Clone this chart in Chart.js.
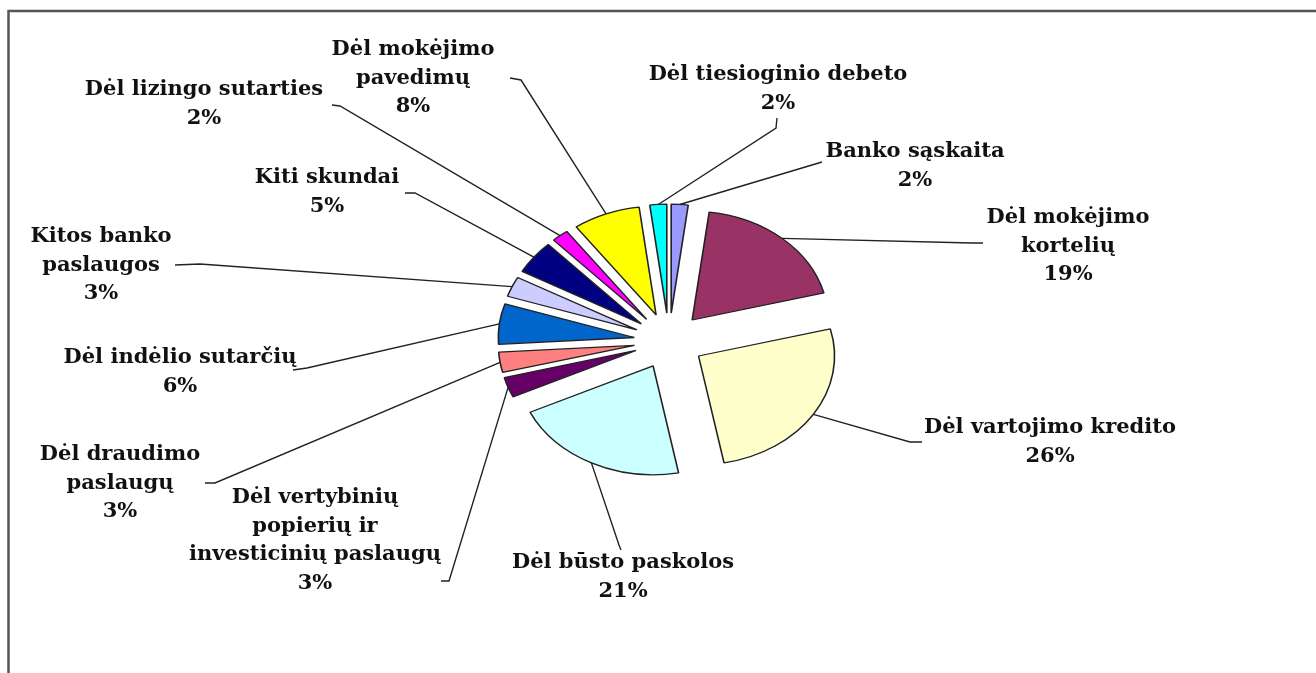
<!DOCTYPE html>
<html><head><meta charset="utf-8">
<script src="https://cdn.jsdelivr.net/npm/chart.js@4/dist/chart.umd.min.js"></script>
<style>html,body{margin:0;padding:0;background:#fff;overflow:hidden}#wrap{width:1316px;height:673px}</style>
</head><body><div id="wrap"><canvas id="c" width="1316" height="673"></canvas></div>
<script>
// ---- data ----
const categories = [
  ['Banko sąskaita'],
  ['Dėl mokėjimo', 'kortelių'],
  ['Dėl vartojimo kredito'],
  ['Dėl būsto paskolos'],
  ['Dėl vertybinių', 'popierių ir', 'investicinių paslaugų'],
  ['Dėl draudimo', 'paslaugų'],
  ['Dėl indėlio sutarčių'],
  ['Kitos banko', 'paslaugos'],
  ['Kiti skundai'],
  ['Dėl lizingo sutarties'],
  ['Dėl mokėjimo', 'pavedimų'],
  ['Dėl tiesioginio debeto']
];
const values = [2, 19, 26, 21, 3, 3, 6, 3, 5, 2, 8, 2];
const colors = ['#9999FF', '#993366', '#FFFFCC', '#CCFFFF', '#660066', '#FF8080',
                '#0066CC', '#CCCCFF', '#000080', '#FF00FF', '#FFFF00', '#00FFFF'];

// ---- layout (label first-line centre, leader end point, elbow point) ----
const labelPos = [[915,152],[1068,218],[1050,428],[623,563],[315,498],[120,455],
                  [180,358],[101,237],[327,178],[204,90],[413,50],[778,75]];
const leaderEnd = [[822,162],[983,243],[922,442],[621,550],[441,581],[205,483],
                   [293,370],[175,265],[405,193],[332,105],[510,78],[777,118]];
const leaderElbow = [[812,165],[972,243],[910,442],[619,545],[449,581],[215,483],
                     [307,368],[200,264],[415,193],[340,106],[521,80],[776,128]];

const SQUASH = 0.8, EXPLODE = 35, LINE_H = 28.5;
const FONT = 'bold 21px "DejaVu Serif"';

const piePlugin = {
  id: 'piePlugin',
  beforeDatasetDraw(chart, args) {
    const ctx = chart.ctx, arcs = args.meta.data;
    const cx = arcs[0].x, cy = arcs[0].y;
    ctx.save();
    ctx.translate(cx, cy); ctx.scale(1, SQUASH); ctx.translate(-cx, -cy);
    arcs.forEach(a => {
      const h = (a.startAngle + a.endAngle) / 2;
      ctx.save();
      ctx.translate(Math.cos(h) * EXPLODE, Math.sin(h) * EXPLODE);
      a.draw(ctx, chart.chartArea);
      ctx.restore();
    });
    ctx.restore();
    return false;
  },
  afterDraw(chart) {
    const ctx = chart.ctx, arcs = chart.getDatasetMeta(0).data;
    const labels = chart.data.labels, vals = chart.data.datasets[0].data;
    ctx.save();
    // frame
    ctx.strokeStyle = '#555'; ctx.lineWidth = 2.5;
    ctx.beginPath(); ctx.moveTo(8.5, 673); ctx.lineTo(8.5, 11); ctx.lineTo(1316, 11); ctx.stroke();
    // leaders
    ctx.strokeStyle = '#222'; ctx.lineWidth = 1.4;
    arcs.forEach((a, i) => {
      const h = (a.startAngle + a.endAngle) / 2;
      const r = a.outerRadius + EXPLODE;
      const px = a.x + Math.cos(h) * r, py = a.y + Math.sin(h) * r * SQUASH;
      ctx.beginPath();
      ctx.moveTo(px, py);
      ctx.lineTo(leaderElbow[i][0], leaderElbow[i][1]);
      ctx.lineTo(leaderEnd[i][0], leaderEnd[i][1]);
      ctx.stroke();
    });
    // labels
    ctx.fillStyle = '#111'; ctx.font = FONT;
    ctx.textAlign = 'center'; ctx.textBaseline = 'middle';
    labels.forEach((lines, i) => {
      const all = lines.concat([vals[i] + '%']);
      all.forEach((t, k) => ctx.fillText(t, labelPos[i][0], labelPos[i][1] + k * LINE_H));
    });
    ctx.restore();
  }
};

new Chart(document.getElementById('c'), {
  type: 'pie',
  data: {
    labels: categories,
    datasets: [{ data: values, backgroundColor: colors, borderColor: '#222', borderWidth: 1.6 }]
  },
  options: {
    responsive: false,
    animation: false,
    devicePixelRatio: 1,
    radius: 136,
    layout: { padding: { left: 22, top: 9, right: 0, bottom: 0 } },
    plugins: { legend: { display: false }, tooltip: { enabled: false } }
  },
  plugins: [piePlugin]
});
</script>
</body></html>
